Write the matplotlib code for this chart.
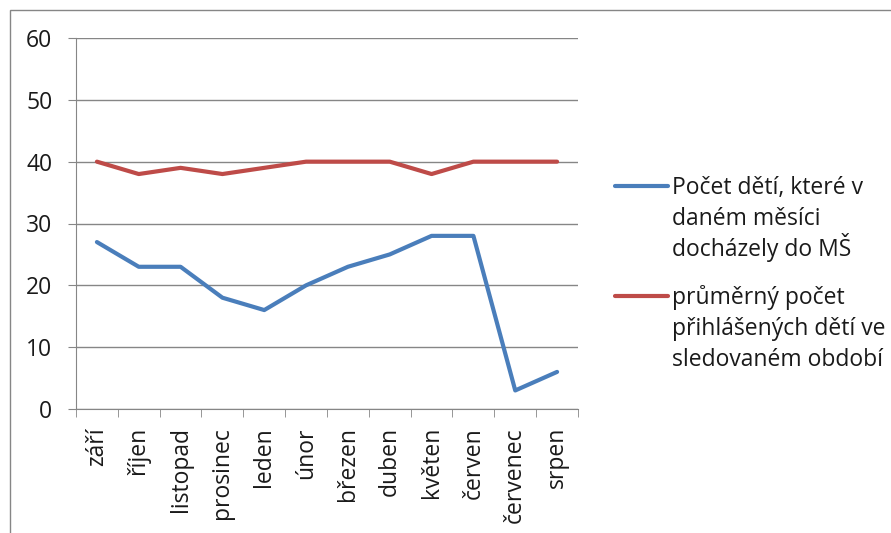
import matplotlib.pyplot as plt
from matplotlib.lines import Line2D
from matplotlib.patches import Rectangle
import numpy as np

MONTHS = ['září', 'říjen', 'listopad', 'prosinec', 'leden', 'únor',
          'březen', 'duben', 'květen', 'červen', 'červenec', 'srpen']
ATTENDANCE = [27, 23, 23, 18, 16, 20, 23, 25, 28, 28, 3, 6]
ENROLLED = [40, 38, 39, 38, 39, 40, 40, 40, 38, 40, 40, 40]
LABELS = [['Počet dětí, které v', 'daném měsíci', 'docházely do MŠ'],
          ['průměrný počet', 'přihlášených dětí ve', 'sledovaném období']]
COLORS = ['#4A7EBB', '#BE4B48']

W, H = 891, 533
FS = 16.5
LW = 3.0
TXT = '#1a1a1a'
plt.rcParams['font.family'] = ['Open Sans', 'DejaVu Sans']

fig = plt.figure(figsize=(W / 100, H / 100), dpi=100)
ax = fig.add_axes([76 / W, 1 - 409 / H, (578 - 76) / W, (409 - 38) / H])

x = np.arange(len(MONTHS))
ax.plot(x, ATTENDANCE, color=COLORS[0], lw=LW, solid_capstyle='round')
ax.plot(x, ENROLLED, color=COLORS[1], lw=LW, solid_capstyle='round')

ax.set_xlim(-0.5, len(MONTHS) - 0.5)
ax.set_ylim(0, 60)
ax.set_yticks(range(0, 61, 10))
ax.yaxis.grid(True, color='#868686', lw=1)
ax.set_axisbelow(True)

ax.set_xticks(x)
ax.set_xticklabels(MONTHS, rotation=90, fontsize=FS, color=TXT)
ax.set_xticks(np.arange(-0.5, len(MONTHS)), minor=True)
ax.tick_params(axis='x', which='major', length=0, pad=13)
ax.tick_params(axis='x', which='minor', length=6, color='#868686', direction='out')
ax.tick_params(axis='y', length=6, color='#868686', labelsize=FS, labelcolor=TXT, pad=11)

for s in ['top', 'right']:
    ax.spines[s].set_visible(False)
for s in ['left', 'bottom']:
    ax.spines[s].set_color('#868686')

# outer chart frame
fig.add_artist(Rectangle((10 / W, -0.1), 1.2, 1.1 - 10 / H,
                         transform=fig.transFigure, fill=False,
                         edgecolor='#868686', lw=1))

# legend
for i, (lines, col) in enumerate(zip(LABELS, COLORS)):
    yh = 186 + i * 110
    fig.add_artist(Line2D([615 / W, 668 / W], [1 - yh / H, 1 - yh / H],
                          transform=fig.transFigure, color=col, lw=LW,
                          solid_capstyle='round'))
    for j, line in enumerate(lines):
        fig.text(672 / W, 1 - (yh + 8 + 31 * j) / H, line, fontsize=FS,
                 color=TXT, va='baseline')

fig.savefig('out.png', dpi=100)
